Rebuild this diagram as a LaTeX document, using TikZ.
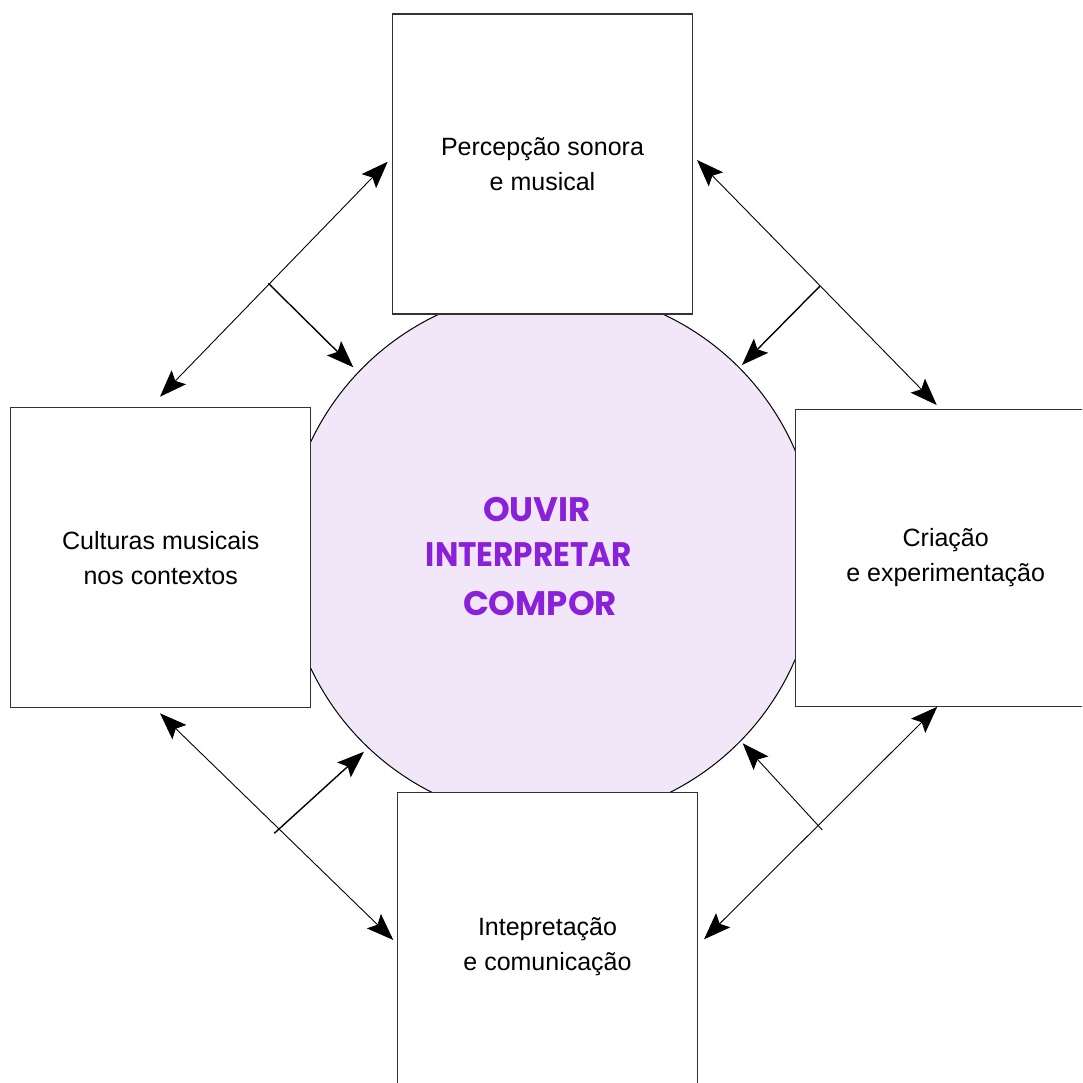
\documentclass[tikz,border=0pt]{standalone}
\usepackage{fontspec}
\setmainfont{Liberation Sans}
\newfontfamily\popfont{Poppins}
\usetikzlibrary{arrows.meta}
\definecolor{circfill}{RGB}{242,230,249}
\definecolor{centerpurple}{RGB}{138,32,218}
\definecolor{boxline}{RGB}{50,50,50}
\tikzset{
  topicbox/.style={draw=boxline, line width=1.4pt, fill=white, minimum width=300pt, minimum height=300pt, inner sep=0pt, align=center, font=\fontsize{25}{35}\selectfont},
  hub/.style={circle, draw=black, line width=1pt, fill=circfill, minimum size=531pt, inner sep=0pt},
  centertext/.style={text=centerpurple, font=\popfont\bfseries\fontsize{34}{40}\selectfont, anchor=base, inner sep=0pt},
  link/.style={line width=0.9pt, {Stealth[length=27pt, width=20pt, inset=5pt]}-{Stealth[length=27pt, width=20pt, inset=5pt]}},
  branch/.style={line width=1.4pt, -{Stealth[length=27pt, width=20pt, inset=5pt]}}
}
\begin{document}
\begin{tikzpicture}[x=1pt, y=-1pt]
\useasboundingbox (0,0) rectangle (1082,1083);
\clip (0,0) rectangle (1082,1083);
% central circle
\node[hub] (hub) at (551,555) {};
\node[centertext] (l1) at (537,521.7) {OUVIR};
\node[centertext] (l2) at (529,566.7) {\scalebox{0.915}[1]{INTERPRETAR}};
\node[centertext] (l3) at (540,615.7) {COMPOR};
% boxes
\node[topicbox] (top) at (542.5,164) {Percepção sonora\\e musical};
\node[topicbox] (left) at (160.7,557.7) {Culturas musicais\\nos contextos};
\node[topicbox, minimum height=297pt] (right) at (945.7,558) {Criação\\e experimentação};
\node[topicbox, minimum height=308pt] (bottom) at (547.5,946.3) {Intepretação\\e comunicação};
% arrow end points
\coordinate (tlA) at (387.7,161.7);
\coordinate (tlB) at (160,396.7);
\coordinate (tlS) at (268.3,283.3);
\coordinate (tlT) at (353.3,367.3);
\coordinate (trA) at (697,160);
\coordinate (trB) at (936.7,405);
\coordinate (trS) at (820,286);
\coordinate (trT) at (742,365);
\coordinate (brA) at (937.3,706.7);
\coordinate (brB) at (704,939.3);
\coordinate (brS) at (822.3,830);
\coordinate (brT) at (742.7,743.3);
\coordinate (blA) at (160,713.3);
\coordinate (blB) at (393.3,940);
\coordinate (blS) at (274.3,833.3);
\coordinate (blT) at (364,751.7);
% connectors
\draw[link] (tlA) -- (tlB);
\draw[branch] (tlS) -- (tlT);
\draw[link] (trA) -- (trB);
\draw[branch] (trS) -- (trT);
\draw[link] (brA) -- (brB);
\draw[branch, line width=0.9pt] (brS) -- (brT);
\draw[link] (blA) -- (blB);
\draw[branch] (blS) -- (blT);
\end{tikzpicture}
\end{document}
